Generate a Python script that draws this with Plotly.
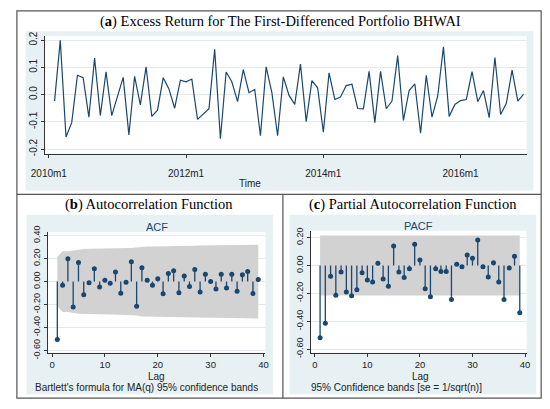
import plotly.graph_objects as go

W, H = 550, 409

NAVY = '#1a476f'
TEAL = '#e7f0f2'
GRID = '#dfeaed'
BAND = '#d2d2d2'
FRAME = '#555555'

# monthly excess return, 2010m2 .. 2016m12
returns = [
    -0.024, 0.199, -0.156, -0.103, 0.071, 0.062, -0.083, 0.134, -0.077, 0.084,
    -0.077, -0.007, 0.063, -0.148, 0.067, -0.038, 0.102, -0.080, -0.057, 0.062,
    0.021, -0.050, 0.053, 0.047, 0.057, -0.091, -0.071, -0.052, 0.166, -0.162,
    0.083, 0.047, -0.026, 0.092, 0.007, 0.019, -0.151, 0.102, 0.007, -0.151,
    0.065, -0.003, -0.036, 0.112, -0.099, 0.051, 0.025, -0.138, 0.080, -0.018,
    -0.009, 0.033, 0.038, -0.051, -0.052, 0.085, -0.103, 0.085, -0.052, -0.024,
    0.143, -0.095, 0.015, 0.039, -0.142, 0.071, -0.083, -0.005, 0.175, -0.080,
    -0.036, -0.022, -0.018, 0.084, -0.026, 0.015, -0.085, 0.136, -0.073, -0.032,
    0.090, -0.024, 0.001,
]
first_month = 1  # months after 2010m1
time_tickvals = [0, 24, 48, 72]
time_ticktext = ['2010m1', '2012m1', '2014m1', '2016m1']
ret_tickvals = [-0.2, -0.1, 0.0, 0.1, 0.2]
ret_ticktext = ['-0.2', '-0.1', '0.0', '0.1', '0.2']

lags = list(range(1, 40))
acf = [
    -0.503, -0.031, 0.199, -0.221, 0.165, -0.115, -0.011, 0.112, -0.048, 0.011,
    -0.014, 0.084, -0.101, -0.006, 0.173, -0.215, 0.120, 0.011, -0.031, 0.025,
    -0.106, 0.070, 0.095, -0.098, 0.048, -0.042, 0.106, -0.090, 0.064, 0.000,
    -0.064, 0.064, -0.056, 0.064, -0.084, 0.059, 0.087, -0.104, 0.017,
]
pacf = [
    -0.518, -0.414, -0.076, -0.213, -0.046, -0.190, -0.217, -0.173, -0.051, -0.104,
    -0.118, 0.016, -0.097, -0.148, 0.141, -0.046, -0.086, -0.023, 0.153, 0.039,
    -0.166, -0.224, -0.023, -0.042, -0.042, -0.243, 0.009, -0.009, 0.076, 0.053,
    0.183, -0.009, -0.083, 0.021, -0.118, -0.243, -0.018, 0.067, -0.338,
]
n_obs = 83
lag_tickvals = [0, 10, 20, 30, 40]
acf_tickvals = [-0.6, -0.4, -0.2, 0.0, 0.2, 0.4]
acf_ticktext = ['-0.60', '-0.40', '-0.20', '0.00', '0.20', '0.40']
pacf_tickvals = [-0.6, -0.4, -0.2, 0.0, 0.2]
pacf_ticktext = ['-0.60', '-0.40', '-0.20', '0.00', '0.20']

# confidence bands
z = 1.96
bart = []
ss = 0.0
for r in acf:
    bart.append(z * ((1 + 2 * ss) / n_obs) ** 0.5)
    ss += r * r
se_pacf = z / n_obs ** 0.5


def px_x(v):
    return v / W


def px_y(v):
    return 1 - v / H


def stems(xs, ys):
    sx, sy = [], []
    for a, b in zip(xs, ys):
        sx += [a, a, None]
        sy += [0, b, None]
    return sx, sy


fig = go.Figure()

# (a) time series
months = [first_month + i for i in range(len(returns))]
fig.add_trace(go.Scatter(x=months, y=returns, mode='lines',
                         line=dict(color=NAVY, width=1.2),
                         xaxis='x', yaxis='y', showlegend=False))

# (b) ACF
fig.add_trace(go.Scatter(x=lags + lags[::-1],
                         y=bart + [-b for b in bart[::-1]],
                         fill='toself', fillcolor=BAND, line=dict(width=0),
                         mode='lines', xaxis='x2', yaxis='y2', showlegend=False))
sx, sy = stems(lags, acf)
fig.add_trace(go.Scatter(x=sx, y=sy, mode='lines', line=dict(color=NAVY, width=1.3),
                         xaxis='x2', yaxis='y2', showlegend=False))
fig.add_trace(go.Scatter(x=lags, y=acf, mode='markers', marker=dict(color=NAVY, size=5),
                         xaxis='x2', yaxis='y2', showlegend=False))

# (c) PACF
fig.add_trace(go.Scatter(x=[lags[0], lags[-1], lags[-1], lags[0]],
                         y=[se_pacf, se_pacf, -se_pacf, -se_pacf],
                         fill='toself', fillcolor=BAND, line=dict(width=0),
                         mode='lines', xaxis='x3', yaxis='y3', showlegend=False))
sx, sy = stems(lags, pacf)
fig.add_trace(go.Scatter(x=sx, y=sy, mode='lines', line=dict(color=NAVY, width=1.3),
                         xaxis='x3', yaxis='y3', showlegend=False))
fig.add_trace(go.Scatter(x=lags, y=pacf, mode='markers', marker=dict(color=NAVY, size=5),
                         xaxis='x3', yaxis='y3', showlegend=False))

tick_font = dict(family='Liberation Sans, Arial, sans-serif', size=10, color='#222')
lag_font = dict(family='Liberation Sans, Arial, sans-serif', size=9.5, color='#222')
ytick_small = dict(family='Liberation Sans, Arial, sans-serif', size=9, color='#222')
axis_common = dict(showline=True, linecolor='#333', linewidth=1, ticks='outside',
                   ticklen=3, tickcolor='#333', zeroline=False, fixedrange=True)

fig.update_layout(
    width=W, height=H,
    margin=dict(l=0, r=0, t=0, b=0),
    paper_bgcolor='white', plot_bgcolor='white',
    xaxis=dict(domain=[px_x(31.7), px_x(530)], range=[-0.73, 83.55], anchor='y',
               tickvals=time_tickvals, ticktext=time_ticktext, showgrid=False,
               tickfont=tick_font, ticklabelstandoff=7, **axis_common),
    yaxis=dict(domain=[px_y(151.7), px_y(30)], range=[-0.2163, 0.2152], anchor='x',
               tickvals=ret_tickvals, ticktext=ret_ticktext, tickangle=-90,
               tickfont=tick_font, showgrid=True, gridcolor=GRID, gridwidth=1,
               **axis_common),
    xaxis2=dict(domain=[px_x(35), px_x(260)], range=[-0.79, 40.37], anchor='y2',
                tickvals=lag_tickvals, showgrid=False, tickfont=lag_font, **axis_common),
    yaxis2=dict(domain=[px_y(358), px_y(233.3)], range=[-0.6193, 0.4286], anchor='x2',
                tickvals=acf_tickvals, ticktext=acf_ticktext, tickangle=-90,
                tickfont=ytick_small, showgrid=True, gridcolor=GRID, **axis_common),
    xaxis3=dict(domain=[px_x(306.7), px_x(530)], range=[-0.79, 40.31], anchor='y3',
                tickvals=lag_tickvals, showgrid=False, tickfont=lag_font, **axis_common),
    yaxis3=dict(domain=[px_y(358), px_y(231.7)], range=[-0.626, 0.2497], anchor='x3',
                tickvals=pacf_tickvals, ticktext=pacf_ticktext, tickangle=-90,
                tickfont=ytick_small, showgrid=True, gridcolor=GRID, **axis_common),
)

# panel frames and backgrounds
shapes = []
for x0, y0, x1, y1 in [(12, 25, 537, 190), (13, 215, 268, 401), (285, 215, 540, 401)]:
    shapes.append(dict(type='rect', xref='paper', yref='paper', layer='below',
                       x0=px_x(x0), x1=px_x(x1), y0=px_y(y1), y1=px_y(y0),
                       fillcolor=TEAL, line=dict(width=0)))
for ax in ['x', 'x2', 'x3']:
    ya = 'y' + ax[1:]
    shapes.append(dict(type='rect', xref=ax + ' domain', yref=ya + ' domain', layer='below',
                       x0=0, x1=1, y0=0, y1=1, fillcolor='white', line=dict(width=0)))
shapes.append(dict(type='rect', xref='paper', yref='paper', x0=px_x(3), x1=px_x(545),
                   y0=px_y(405), y1=px_y(4), line=dict(color=FRAME, width=1.2)))
shapes.append(dict(type='line', xref='paper', yref='paper', x0=px_x(3), x1=px_x(545),
                   y0=px_y(194), y1=px_y(194), line=dict(color=FRAME, width=1.2)))
shapes.append(dict(type='line', xref='paper', yref='paper', x0=px_x(278), x1=px_x(278),
                   y0=px_y(405), y1=px_y(194), line=dict(color=FRAME, width=1.2)))
fig.update_layout(shapes=shapes)

serif = dict(family='Liberation Serif, Times New Roman, serif', size=14.5, color='black')
sans = dict(family='Liberation Sans, Arial, sans-serif', size=10, color='#222')
sub = dict(family='Liberation Sans, Arial, sans-serif', size=11, color=NAVY)


def note(text, x, y, font, xanchor='center'):
    return dict(text=text, x=px_x(x), y=px_y(y), xref='paper', yref='paper',
                showarrow=False, font=font, xanchor=xanchor, yanchor='middle',
                borderpad=0)


fig.update_layout(annotations=[
    note('(<b>a</b>) Excess Return for The First-Differenced Portfolio BHWAI', 275, 15, serif),
    note('Time', 244, 183, sans),
    note('(<b>b</b>) Autocorrelation Function', 140, 205, serif),
    note('ACF', 148, 228, sub),
    note('Lag', 147, 383, sans),
    note("Bartlett's formula for MA(q) 95% confidence bands", 137, 394, sans),
    note('(<b>c</b>) Partial Autocorrelation Function', 412, 205, serif),
    note('PACF', 418, 227, sub),
    note('Lag', 420, 383, sans),
    note('95% Confidence bands [se = 1/sqrt(n)]', 395, 394, sans),
])

# drop the default page margin so the 550x409 figure fills the window
fig.write_html("out.html", config={'displayModeBar': False},
               post_script="document.body.style.margin='0';"
                           "document.body.style.overflow='hidden';")
